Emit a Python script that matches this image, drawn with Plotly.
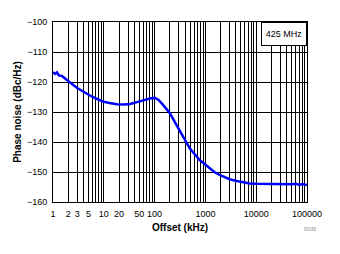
import plotly.graph_objects as go

# Offset frequency (kHz) and phase noise (dBc/Hz)
freq_khz = [1, 1.1, 1.2, 1.3, 1.5, 1.7, 2, 2.5, 3, 4, 5, 6, 7, 8, 10, 13, 18, 25,
            33, 45, 60, 81, 101, 120, 148, 200, 269, 364, 491, 773, 1000, 1214,
            1500, 1906, 2400, 2992, 4700, 7390, 10000, 15700, 33100, 50000,
            60800, 70000, 80000, 96000, 100000]
phase_noise_dbc = [-116.7, -117.3, -116.8, -117.8, -118.0, -118.8, -119.8, -121.0,
                   -122.0, -123.3, -124.2, -125.0, -125.5, -126.0, -126.6, -127.0,
                   -127.4, -127.5, -127.3, -126.7, -126.1, -125.5, -125.3, -126.0,
                   -127.7, -130.4, -134.3, -138.2, -142.1, -146.0, -147.6, -148.8,
                   -150.0, -151.0, -151.8, -152.4, -153.2, -153.8, -153.9, -154.0,
                   -154.0, -154.1, -153.9, -154.3, -154.0, -154.4, -154.3]

x_labels = [1, 2, 3, 5, 10, 20, 50, 100, 1000, 10000, 100000]
y_ticks = [-160, -150, -140, -130, -120, -110, -100]
legend_label = "425 MHz"

grid_vals = []
for d in [1, 10, 100, 1000, 10000]:
    for m in range(1, 10):
        grid_vals.append(m * d)
grid_vals.append(100000)
grid_text = [str(v) if v in x_labels else "" for v in grid_vals]

font_family = "Liberation Sans, Arial, sans-serif"

fig = go.Figure()
fig.add_trace(go.Scatter(x=freq_khz, y=phase_noise_dbc, mode="lines",
                         line=dict(color="#0000ff", width=2.5), showlegend=False))

fig.update_layout(
    width=340, height=254,
    margin=dict(l=53, r=33, t=22, b=52),
    paper_bgcolor="white", plot_bgcolor="white",
    font=dict(family=font_family, size=9, color="black"),
    xaxis=dict(type="log", range=[0, 5], tickvals=grid_vals, ticktext=grid_text,
               showgrid=True, gridcolor="black", gridwidth=1,
               showline=True, linecolor="black", linewidth=1, mirror=True,
               ticks="", tickfont=dict(size=9), zeroline=False, ticklabelstandoff=3,
               title=dict(text="<b>Offset (kHz)</b>", font=dict(size=10), standoff=6)),
    yaxis=dict(range=[-160, -100], tickvals=y_ticks,
               showgrid=True, gridcolor="black", gridwidth=1,
               showline=True, linecolor="black", linewidth=1, mirror=True,
               ticks="", tickfont=dict(size=9), zeroline=False, ticklabelstandoff=3,
               title=dict(text="<b>Phase noise (dBc/Hz)</b>", font=dict(size=10), standoff=3)),
)

fig.add_annotation(x=1, y=1, xref="paper", yref="paper", xanchor="right", yanchor="top",
                   text=legend_label, showarrow=False, font=dict(size=9),
                   bgcolor="white", bordercolor="black", borderwidth=1,
                   width=40, height=18, borderpad=2)
fig.add_annotation(x=(318 - 53) / 254, y=(254 - 52 - 234) / 180, xref="paper", yref="paper",
                   text="D039", showarrow=False, font=dict(size=5, color="#888888"))

fig.write_html("out.html")
